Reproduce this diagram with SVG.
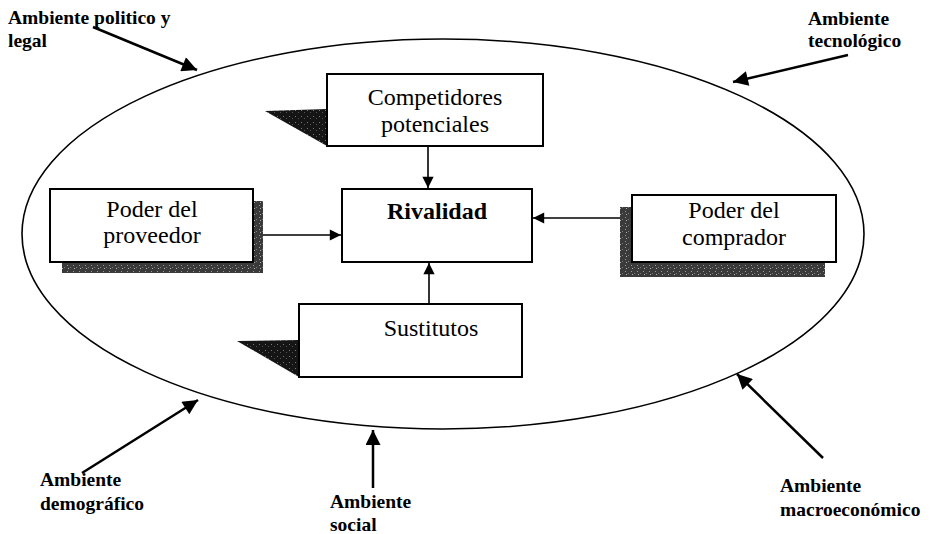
<svg xmlns="http://www.w3.org/2000/svg" width="935" height="534" viewBox="0 0 935 534">
  <defs>
    <marker id="headBig" viewBox="0 0 10 10" refX="10" refY="5" markerWidth="7" markerHeight="6" markerUnits="strokeWidth" orient="auto">
      <path d="M0,0 L10,5 L0,10 Z" fill="#000"/>
    </marker>
    <marker id="headSmall" viewBox="0 0 10 10" refX="10" refY="5" markerWidth="9" markerHeight="7" markerUnits="strokeWidth" orient="auto">
      <path d="M0,0 L10,5 L0,10 Z" fill="#000"/>
    </marker>
    <pattern id="grain" width="6" height="6" patternUnits="userSpaceOnUse">
      <rect width="6" height="6" fill="#3a3a3a"/>
      <rect x="1" y="1" width="1" height="1" fill="#9a9a9a"/>
      <rect x="4" y="3" width="1" height="1" fill="#7a7a7a"/>
      <rect x="2" y="4" width="1" height="1" fill="#b0b0b0"/>
    </pattern>
    <pattern id="grainDark" width="6" height="6" patternUnits="userSpaceOnUse">
      <rect width="6" height="6" fill="#151515"/>
      <rect x="1" y="2" width="1" height="1" fill="#777"/>
      <rect x="4" y="4" width="1" height="1" fill="#555"/>
    </pattern>
  </defs>
  <style>
    .box { fill: #fff; stroke: #000; stroke-width: 2; }
    .shadow { fill: url(#grain); }
    .wedge { fill: url(#grainDark); }
    .label { font-family: "Liberation Serif", "Times New Roman", serif; font-size: 24px; fill: #000; text-anchor: middle; }
    .env { font-family: "Liberation Serif", "Times New Roman", serif; font-size: 19.5px; font-weight: bold; fill: #000; }
    .ext { stroke: #000; stroke-width: 2.5; fill: none; marker-end: url(#headBig); }
    .int { stroke: #000; stroke-width: 1.6; fill: none; marker-end: url(#headSmall); }
  </style>
  <rect width="935" height="534" fill="#fff"/>

  <!-- macro environment boundary -->
  <ellipse id="entorno" cx="443" cy="234" rx="421" ry="195" fill="none" stroke="#000" stroke-width="1.6"/>

  <g id="competidores">
    <polygon class="wedge" points="265,111 327,109 327,146"/>
    <rect class="box" x="327" y="74" width="216" height="72"/>
    <text class="label" x="435" y="105">Competidores</text>
    <text class="label" x="435" y="132">potenciales</text>
  </g>

  <g id="rivalidad">
    <rect class="box" x="342" y="189" width="190" height="73"/>
    <text class="label" x="437" y="219" font-weight="bold" font-size="23">Rivalidad</text>
  </g>

  <g id="proveedor">
    <rect class="shadow" x="62" y="201" width="201" height="72"/>
    <rect class="box" x="50" y="189" width="203" height="73"/>
    <text class="label" x="152" y="217">Poder del</text>
    <text class="label" x="152" y="243">proveedor</text>
  </g>

  <g id="comprador">
    <rect class="shadow" x="620" y="207" width="205" height="70"/>
    <rect class="box" x="632" y="195" width="204" height="67"/>
    <text class="label" x="734" y="218">Poder del</text>
    <text class="label" x="734" y="245">comprador</text>
  </g>

  <g id="sustitutos">
    <polygon class="wedge" points="237,341 299,340 299,377"/>
    <rect class="box" x="299" y="304" width="223" height="73"/>
    <text class="label" x="431" y="336">Sustitutos</text>
  </g>

  <g id="ambiente-politico">
    <text class="env" x="8" y="24">Ambiente politico y</text>
    <text class="env" x="8" y="47">legal</text>
  </g>
  <g id="ambiente-tecnologico">
    <text class="env" x="808" y="25">Ambiente</text>
    <text class="env" x="808" y="47">tecnológico</text>
  </g>
  <g id="ambiente-demografico">
    <text class="env" x="40" y="486">Ambiente</text>
    <text class="env" x="40" y="510">demográfico</text>
  </g>
  <g id="ambiente-social">
    <text class="env" x="330" y="508">Ambiente</text>
    <text class="env" x="330" y="531">social</text>
  </g>
  <g id="ambiente-macroeconomico">
    <text class="env" x="780" y="492">Ambiente</text>
    <text class="env" x="780" y="516">macroeconómico</text>
  </g>

  <g id="connectors">
    <line class="int" x1="428" y1="146" x2="428" y2="188"/>
    <line class="int" x1="263" y1="235" x2="341" y2="235"/>
    <line class="int" x1="620" y1="218" x2="533" y2="218"/>
    <line class="int" x1="429" y1="304" x2="429" y2="263"/>
    <line class="ext" x1="93" y1="27" x2="197" y2="70"/>
    <line class="ext" x1="848" y1="55" x2="733" y2="82"/>
    <line class="ext" x1="82" y1="473" x2="198" y2="400"/>
    <line class="ext" x1="373" y1="488" x2="373" y2="430"/>
    <line class="ext" x1="823" y1="458" x2="737" y2="374"/>
  </g>
</svg>
